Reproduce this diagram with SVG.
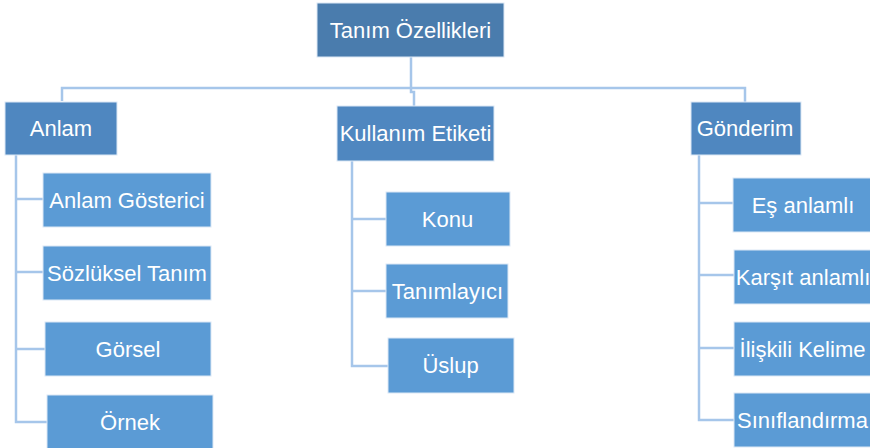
<svg xmlns="http://www.w3.org/2000/svg" width="870" height="448" viewBox="0 0 870 448">
  <style>
    .box rect { stroke: #dce8f5; stroke-width: 1; }
    .root rect { fill: #4a7cad; }
    .lvl1 rect { fill: #4f87c0; }
    .lvl2 rect { fill: #5b9bd5; }
    text { font-family: "Liberation Sans", Arial, sans-serif; font-size: 22px; fill: #ffffff; text-anchor: middle; }
    .links path { fill: none; stroke: #a6c6ea; stroke-width: 2.5; }
  </style>
  <rect width="870" height="448" fill="#ffffff"/>

  <!-- connectors -->
  <g class="links">
    <path d="M411,57 V92 H414 V106"/>
    <path d="M62,101 V88 H745 V102"/>
    <!-- Anlam children -->
    <path d="M16,155 V422 H47"/>
    <path d="M16,199 H43"/>
    <path d="M16,272 H43"/>
    <path d="M16,349 H45"/>
    <!-- Kullanım Etiketi children -->
    <path d="M352,161 V366 H388"/>
    <path d="M352,219 H386"/>
    <path d="M352,291 H386"/>
    <!-- Gönderim children -->
    <path d="M699,155 V420 H734"/>
    <path d="M699,203 H733"/>
    <path d="M699,275 H734"/>
    <path d="M699,348 H734"/>
  </g>

  <!-- root -->
  <g id="tanim-ozellikleri" class="box root">
    <rect x="317" y="3" width="187" height="54"/>
    <text x="410.5" y="37.5">Tanım Özellikleri</text>
  </g>

  <!-- first level -->
  <g id="anlam" class="box lvl1">
    <rect x="5" y="102" width="112" height="53"/>
    <text x="61" y="136">Anlam</text>
  </g>
  <g id="kullanim-etiketi" class="box lvl1">
    <rect x="337" y="106" width="157" height="55"/>
    <text x="415.5" y="141">Kullanım Etiketi</text>
  </g>
  <g id="gonderim" class="box lvl1">
    <rect x="691" y="102" width="110" height="53"/>
    <text x="745" y="136">Gönderim</text>
  </g>

  <!-- Anlam children -->
  <g id="anlam-gosterici" class="box lvl2">
    <rect x="43" y="173" width="168" height="54"/>
    <text x="127" y="207.5">Anlam Gösterici</text>
  </g>
  <g id="sozluksel-tanim" class="box lvl2">
    <rect x="43" y="246" width="168" height="54"/>
    <text x="127" y="280.5">Sözlüksel Tanım</text>
  </g>
  <g id="gorsel" class="box lvl2">
    <rect x="45" y="322" width="166" height="54"/>
    <text x="128" y="356.5">Görsel</text>
  </g>
  <g id="ornek" class="box lvl2">
    <rect x="47" y="395" width="166" height="56"/>
    <text x="130" y="429.5">Örnek</text>
  </g>

  <!-- Kullanım Etiketi children -->
  <g id="konu" class="box lvl2">
    <rect x="386" y="192" width="124" height="54"/>
    <text x="447.5" y="226.5">Konu</text>
  </g>
  <g id="tanimlayici" class="box lvl2">
    <rect x="386" y="264" width="122" height="54"/>
    <text x="447.5" y="298.5">Tanımlayıcı</text>
  </g>
  <g id="uslup" class="box lvl2">
    <rect x="388" y="338" width="126" height="55"/>
    <text x="450.5" y="373">Üslup</text>
  </g>

  <!-- Gönderim children -->
  <g id="es-anlamli" class="box lvl2">
    <rect x="733" y="178" width="170" height="54"/>
    <text x="803" y="212.5">Eş anlamlı</text>
  </g>
  <g id="karsit-anlamli" class="box lvl2">
    <rect x="734" y="250" width="170" height="54"/>
    <text x="803" y="284.5">Karşıt anlamlı</text>
  </g>
  <g id="iliskili-kelime" class="box lvl2">
    <rect x="734" y="322" width="170" height="54"/>
    <text x="802.5" y="356.5">İlişkili Kelime</text>
  </g>
  <g id="siniflandirma" class="box lvl2">
    <rect x="734" y="393" width="170" height="54"/>
    <text x="802.5" y="427.5">Sınıflandırma</text>
  </g>
</svg>
